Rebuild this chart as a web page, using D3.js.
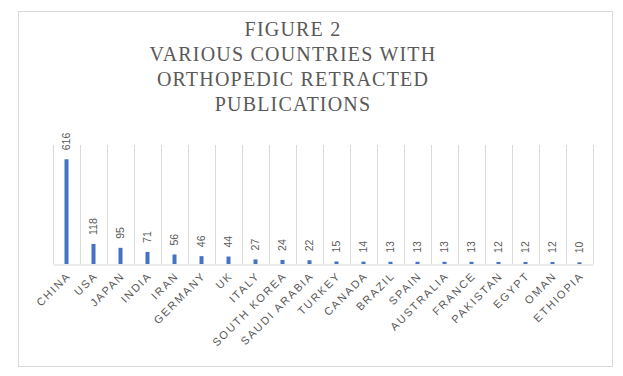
<!DOCTYPE html>
<html>

<head>
    <meta charset=utf-8 />
    <script src="https://cdn.jsdelivr.net/npm/d3@7"></script>
    <title>figure 2</title>
    <style>
        html,
        body {
            margin: 0;
            background: #fff;
        }
    </style>
</head>

<body>
    <div id="svg-canvas"></div>
    <script>
        var countries = ['CHINA', 'USA', 'JAPAN', 'INDIA', 'IRAN', 'GERMANY', 'UK', 'ITALY', 'SOUTH KOREA',
            'SAUDI ARABIA', 'TURKEY', 'CANADA', 'BRAZIL', 'SPAIN', 'AUSTRALIA', 'FRANCE', 'PAKISTAN',
            'EGYPT', 'OMAN', 'ETHIOPIA'];
        var publications = [616, 118, 95, 71, 56, 46, 44, 27, 24, 22, 15, 14, 13, 13, 13, 13, 12, 12, 12, 10];
        var titleLines = ['FIGURE 2', 'VARIOUS COUNTRIES WITH', 'ORTHOPEDIC RETRACTED', 'PUBLICATIONS'];
    </script>
    <script>
        var W = 623, H = 376;
        var svg = d3.select('#svg-canvas').append('svg')
            .attr('width', W)
            .attr('height', H);

        // chart frame
        svg.append('rect')
            .attr('x', 18.5).attr('y', 11.5)
            .attr('width', 594).attr('height', 355)
            .attr('fill', '#fff')
            .attr('stroke', '#d9d9d9')

        var title = svg.append('text')
            .attr('text-anchor', 'middle')
            .attr('font-family', 'Liberation Serif')
            .attr('font-size', 20)
            .attr('letter-spacing', 1.2)
            .attr('fill', '#595959')

        title.selectAll('tspan')
            .data(titleLines)
            .enter().append('tspan')
            .attr('x', 293)
            .attr('y', (d, i) => 36 + i * 25)
            .text(d => d)

        var plotLeft = 53, plotRight = 593, plotTop = 145, plotBottom = 264;

        var x = d3.scaleBand().domain(countries).range([plotLeft, plotRight]).padding(0);
        var y = d3.scaleLinear().domain([0, 700]).range([plotBottom, plotTop]);

        var g = svg.append('g');

        // vertical gridlines at category boundaries
        g.selectAll('line.grid')
            .data(d3.range(countries.length + 1))
            .enter().append('line')
            .attr('class', 'grid')
            .attr('x1', i => Math.round(plotLeft + i * x.step()) + 0.5)
            .attr('x2', i => Math.round(plotLeft + i * x.step()) + 0.5)
            .attr('y1', plotTop)
            .attr('y2', plotBottom)
            .attr('stroke', '#d9d9d9')

        var xAxis = g.append('g')
            .attr('transform', `translate(0, ${plotBottom + 0.5})`)
            .call(d3.axisBottom(x).tickSize(0).tickPadding(0))

        xAxis.select('.domain').attr('stroke', '#d9d9d9')

        xAxis.selectAll('text')
            .attr('font-family', 'Liberation Sans')
            .attr('font-size', 11)
            .attr('letter-spacing', 1.8)
            .attr('fill', '#595959')
            .attr('text-anchor', 'end')
            .attr('dy', 0)
            .attr('y', 0)
            .attr('transform', 'translate(5, 12) rotate(-45)')

        var barW = 4;
        g.selectAll('rect.bar')
            .data(publications)
            .enter().append('rect')
            .attr('class', 'bar')
            .attr('x', (d, i) => x(countries[i]) + x.bandwidth() / 2 - barW / 2)
            .attr('y', d => y(d))
            .attr('width', barW)
            .attr('height', d => plotBottom - y(d))
            .attr('fill', '#4472c4')

        g.selectAll('text.val')
            .data(publications)
            .enter().append('text')
            .attr('class', 'val')
            .attr('font-family', 'Liberation Sans')
            .attr('font-size', 10.5)
            .attr('fill', '#595959')
            .attr('text-anchor', 'start')
            .attr('dominant-baseline', 'middle')
            .attr('transform', (d, i) => `translate(${x(countries[i]) + x.bandwidth() / 2 + 1}, ${y(d) - 9}) rotate(-90)`)
            .text(d => d)
    </script>
</body>

</html>
